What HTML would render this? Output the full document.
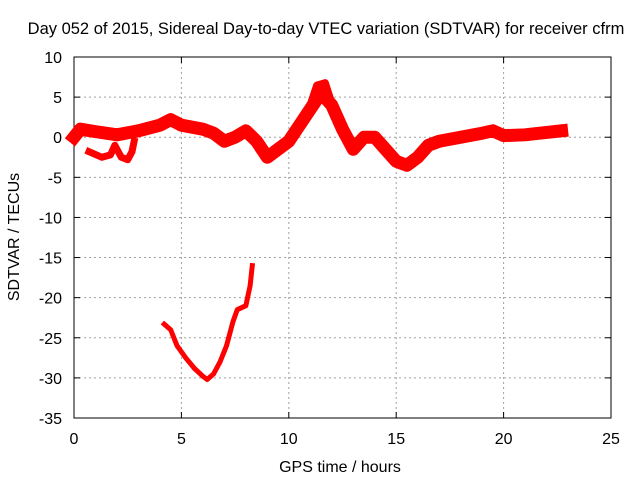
<!DOCTYPE html>
<html><head><meta charset="utf-8"><style>
body{margin:0;background:#fff}
svg text{font-family:"Liberation Sans",sans-serif;font-size:16px;fill:#000}
</style></head><body>
<svg width="640" height="480" xmlns="http://www.w3.org/2000/svg">
<g id="grid"></g>
<g id="axes"></g>
<g id="series"></g>
<text x="326" y="34" text-anchor="middle" style="font-size:16.5px">Day 052 of 2015, Sidereal Day-to-day VTEC variation (SDTVAR) for receiver cfrm</text>
<text x="340" y="472" text-anchor="middle">GPS time / hours</text>
<text transform="translate(19,237) rotate(-90)" text-anchor="middle">SDTVAR / TECUs</text>
</svg>
<script>
const xTicks=[0,5,10,15,20,25];
const yTicks=[10,5,0,-5,-10,-15,-20,-25,-30,-35];
const mainBand=[[0,0],[0.3,1.0],[1,0.7],[2,0.3],[3,0.8],[4,1.5],[4.5,2.2],[5,1.5],[6,1.0],[6.5,0.5],[7,-0.5],[7.5,0],[8,0.8],[8.5,-0.5],[9,-2.5],[9.5,-1.5],[10,-0.5],[10.5,1.5],[11,3.5],[11.5,5.5],[12,4],[12.5,1],[13,-1.5],[13.5,0],[14,0],[14.5,-1.5],[15,-3],[15.5,-3.5],[16,-2.5],[16.5,-1],[17,-0.5],[18,0],[19,0.5],[19.5,0.8],[20,0.2],[21,0.3],[22,0.6],[22.7,0.8]];
const lowerLoop=[[0.7,-1.8],[1.3,-2.5],[1.7,-2.2],[1.9,-1],[2.2,-2.5],[2.5,-2.8],[2.7,-1.8],[2.8,-0.5]];
const upperBranch=[[10.8,2.5],[11.3,6.5],[11.7,6.8],[12.1,3.5]];
const dipCurve=[[4.2,-23.3],[4.5,-24],[4.8,-26],[5.2,-27.5],[5.6,-28.8],[6,-29.8],[6.2,-30.2],[6.5,-29.5],[6.8,-28],[7.1,-26],[7.4,-23],[7.6,-21.5],[8,-21],[8.2,-18.5],[8.3,-16]];
const X0=74,X1=611,Y0=57,Y1=418;
const sx=v=>X0+(v-0)/25*(X1-X0);
const sy=v=>Y0+(10-v)/45*(Y1-Y0);
const NS='http://www.w3.org/2000/svg';
function mk(t,a,p){const e=document.createElementNS(NS,t);for(const k in a)e.setAttribute(k,a[k]);p.appendChild(e);return e;}
const grid=document.getElementById('grid'),axes=document.getElementById('axes'),ser=document.getElementById('series');
xTicks.forEach(t=>{const x=sx(t);
 if(t>0&&t<25){const g=mk('line',{x1:x,x2:x,y1:Y0,y2:Y1,stroke:'#a0a0a0','stroke-dasharray':'2,3'},grid);}
 mk('line',{x1:x,x2:x,y1:Y1,y2:Y1-6,stroke:'#000'},axes);mk('line',{x1:x,x2:x,y1:Y0,y2:Y0+6,stroke:'#000'},axes);
 const l=mk('text',{x:x,y:Y1+26,'text-anchor':'middle'},axes);l.textContent=t;});
yTicks.forEach(t=>{const y=sy(t);
 if(t<10&&t>-35){const g=mk('line',{x1:X0,x2:X1,y1:y,y2:y,stroke:'#a0a0a0','stroke-dasharray':'2,3'},grid);}
 mk('line',{x1:X0,x2:X0+6,y1:y,y2:y,stroke:'#000'},axes);mk('line',{x1:X1,x2:X1-6,y1:y,y2:y,stroke:'#000'},axes);
 const l=mk('text',{x:X0-12,y:y+6,'text-anchor':'end'},axes);l.textContent=t;});
mk('rect',{x:X0,y:Y0,width:X1-X0,height:Y1-Y0,fill:'none',stroke:'#000'},axes);
function draw(d,w,name){const p=mk('polyline',{points:d.map(q=>sx(q[0])+','+sy(q[1])).join(' '),fill:'none',stroke:'#ff0000','stroke-width':w,'stroke-linejoin':'round','stroke-linecap':'square'},ser);
 
 }
draw(mainBand,13,'sdtvar-main-band');
draw(lowerLoop,7,'sdtvar-lower-loop');
draw(upperBranch,7,'sdtvar-upper-branch');
draw(dipCurve,5,'sdtvar-dip-curve');
</script>
</body></html>
